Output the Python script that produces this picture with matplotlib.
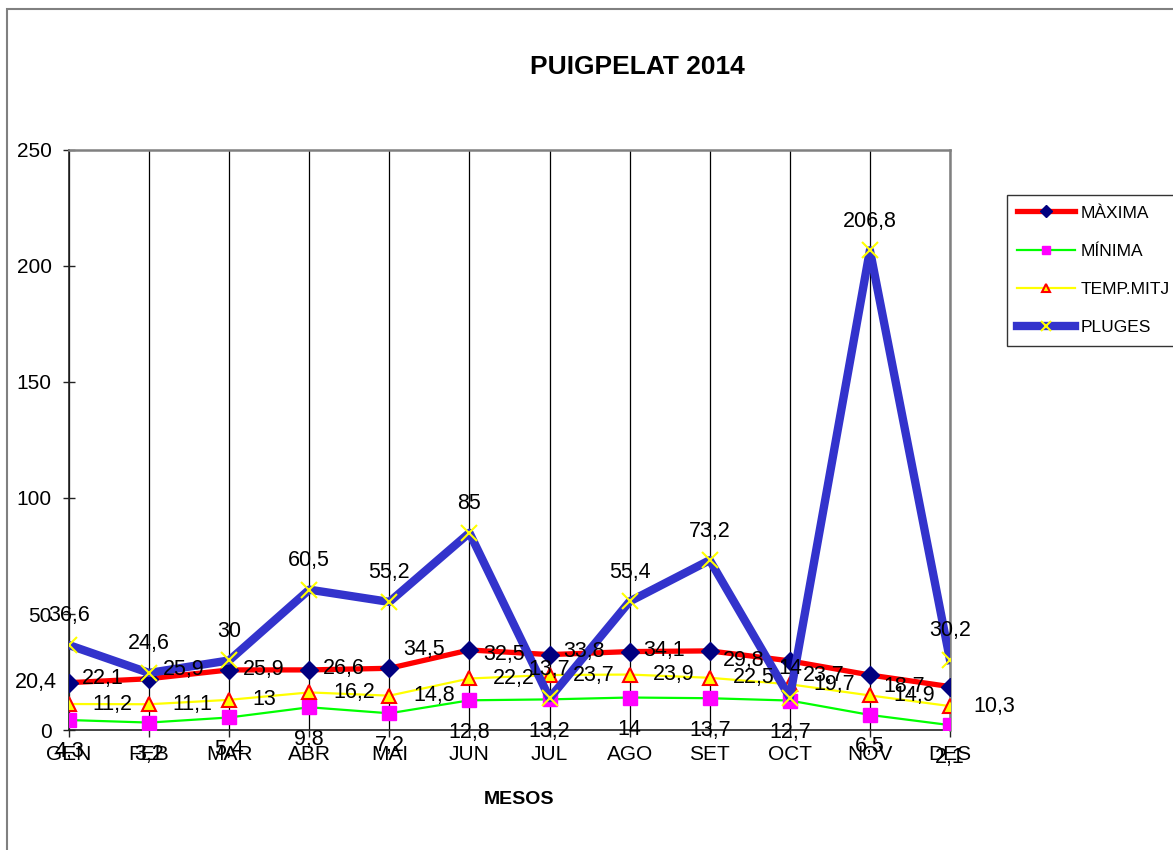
import matplotlib.pyplot as plt
from matplotlib.patches import Rectangle

plt.rcParams['font.family'] = ['Liberation Sans', 'DejaVu Sans']

mesos = ["GEN", "FEB", "MAR", "ABR", "MAI", "JUN", "JUL", "AGO", "SET", "OCT", "NOV", "DES"]
maxima = [20.4, 22.1, 25.9, 25.9, 26.6, 34.5, 32.5, 33.8, 34.1, 29.8, 23.7, 18.7]
minima = [4.3, 3.2, 5.4, 9.8, 7.2, 12.8, 13.2, 14, 13.7, 12.7, 6.5, 2.1]
temp_mitj = [11.2, 11.1, 13, 16.2, 14.8, 22.2, 23.7, 23.9, 22.5, 19.7, 14.9, 10.3]
pluges = [36.6, 24.6, 30, 60.5, 55.2, 85, 13.7, 55.4, 73.2, 14, 206.8, 30.2]


def etiqueta(v):
    return f"{v:g}".replace(".", ",")


W, H = 1173, 850
fig = plt.figure(figsize=(W / 100, H / 100), dpi=100)
ax = fig.add_axes([69 / W, 1 - 730 / H, (950 - 69) / W, (730 - 150) / H])

x = list(range(len(mesos)))

l1, = ax.plot(x, maxima, color="#FF0000", lw=3.8, marker="D", ms=9.5,
              mfc="#000080", mec="#000080", label="MÀXIMA", zorder=3)
l2, = ax.plot(x, minima, color="#00FF00", lw=1.6, marker="s", ms=10,
              mfc="#FF00FF", mec="#FF00FF", label="MÍNIMA", zorder=3)
l3, = ax.plot(x, temp_mitj, color="#FFFF00", lw=1.6, marker="^", ms=10,
              mfc="#FFFF00", mec="#FF0000", mew=1.5, label="TEMP.MITJ", zorder=3)
l4, = ax.plot(x, pluges, color="#3333CC", lw=6, marker="x", ms=11,
              mec="#FFFF00", mew=1.5, label="PLUGES", zorder=4)

fs = 15.5
for i in x:
    # MÀXIMA a l'esquerra
    dx = -9 if i == 0 else -18
    ax.annotate(etiqueta(maxima[i]), (i, maxima[i]), xytext=(dx, 0),
                textcoords="offset points", ha="right", va="center",
                fontsize=fs, zorder=6, annotation_clip=False)
    # MÍNIMA a sota
    ax.annotate(etiqueta(minima[i]), (i, minima[i]), xytext=(0, -23),
                textcoords="offset points", ha="center", va="center",
                fontsize=fs, zorder=6, annotation_clip=False)
    # TEMP.MITJ a la dreta
    ax.annotate(etiqueta(temp_mitj[i]), (i, temp_mitj[i]), xytext=(17, 0),
                textcoords="offset points", ha="left", va="center",
                fontsize=fs, zorder=6, annotation_clip=False)
    # PLUGES a dalt
    ax.annotate(etiqueta(pluges[i]), (i, pluges[i]), xytext=(0, 21),
                textcoords="offset points", ha="center", va="center",
                fontsize=fs, zorder=6, annotation_clip=False)

ax.set_xlim(0, 11)
ax.set_ylim(0, 250)
ax.set_xticks(x)
ax.set_xticklabels(mesos, fontsize=15)
ax.set_yticks([0, 50, 100, 150, 200, 250])
ax.tick_params(axis="y", direction="inout", length=9, width=1, colors="#222222",
               labelcolor="black", labelsize=15, pad=8)
ax.tick_params(axis="x", direction="out", length=5, width=1, colors="#222222",
               labelcolor="black", labelsize=15, pad=6)
ax.grid(axis="x", color="black", lw=0.9, zorder=1)

ax.spines["left"].set_color("#222222")
ax.spines["bottom"].set_color("#222222")
ax.spines["left"].set_linewidth(1.2)
ax.spines["bottom"].set_linewidth(1.2)
ax.spines["top"].set_color("#808080")
ax.spines["right"].set_color("#808080")
ax.spines["top"].set_linewidth(1.8)
ax.spines["right"].set_linewidth(1.8)
ax.set_axisbelow(True)

fig.text(637 / W, 1 - 67 / H, "PUIGPELAT 2014", fontsize=19, fontweight="bold",
         ha="center", va="center")
fig.text(519 / W, 1 - 800 / H, "MESOS", fontsize=14, fontweight="bold",
         ha="center", va="center")

leg = fig.legend(handles=[l1, l2, l3, l4], loc="upper left",
                 bbox_to_anchor=(1007 / W, 1 - 195 / H), borderaxespad=0,
                 fontsize=12.5, frameon=True, fancybox=False, edgecolor="black",
                 handlelength=3.3, handletextpad=0.35, labelspacing=1.33,
                 borderpad=0.6, markerscale=0.6)
leg.get_frame().set_linewidth(1.0)

fig.patches.append(Rectangle((7 / W, -0.5), 2, 1.5 - 9 / H, transform=fig.transFigure,
                             fill=False, ec="#808080", lw=1.5))

fig.savefig("out.png", dpi=100)
